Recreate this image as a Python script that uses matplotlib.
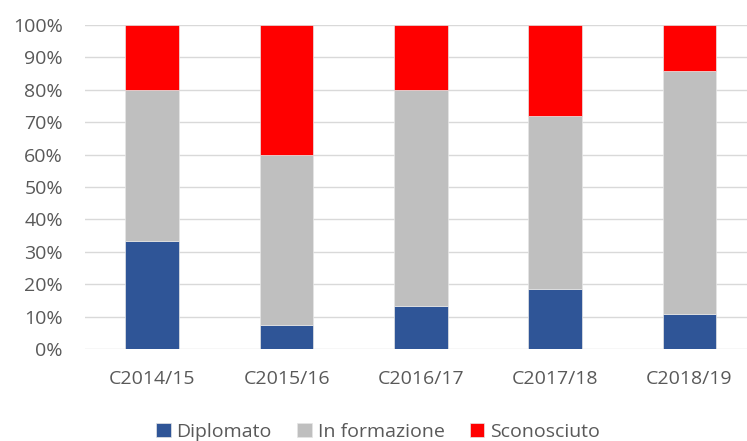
import matplotlib
matplotlib.use("Agg")
import matplotlib.pyplot as plt
import numpy as np

# Cohort outcomes (share of students)
categories = ["C2014/15", "C2015/16", "C2016/17", "C2017/18", "C2018/19"]
diplomato = [33.3, 7.4, 13.3, 18.6, 10.7]
in_formazione = [46.7, 52.6, 66.7, 53.3, 75.0]
sconosciuto = [20.0, 40.0, 20.0, 28.1, 14.3]
y_ticks = [0, 10, 20, 30, 40, 50, 60, 70, 80, 90, 100]

series = [
    ("Diplomato", diplomato, "#2F5597"),
    ("In formazione", in_formazione, "#BFBFBF"),
    ("Sconosciuto", sconosciuto, "#FF0000"),
]

plt.rcParams["font.family"] = ["Open Sans", "DejaVu Sans"]
text_color = "#595959"
fs = 14.0

fig = plt.figure(figsize=(7.47, 4.41), dpi=100)
W, H = 747, 441
left, right, top, bottom = 85.2, 756.5, 25, 349
ax = fig.add_axes([left / W, (H - bottom) / H, (right - left) / W, (bottom - top) / H])

x = np.arange(len(categories))
base = np.zeros(len(categories))
for name, vals, col in series:
    vals = np.asarray(vals, dtype=float)
    ax.bar(x, vals, 0.4, bottom=base, color=col, label=name,
           edgecolor="#E6E6E6", linewidth=0.5, zorder=3)
    base += vals

ax.set_xlim(-0.5, len(categories) - 0.5)
ax.set_ylim(0, 100)
ax.set_yticks(y_ticks)
ax.set_yticklabels([f"{v}%" for v in y_ticks])
ax.set_xticks(x)
ax.set_xticklabels(categories)
ax.yaxis.grid(True, color="#D9D9D9", linewidth=1.0, zorder=0)
ax.set_axisbelow(True)
for s in ax.spines.values():
    s.set_visible(False)
ax.tick_params(axis="both", length=0, labelsize=fs, labelcolor=text_color)
ax.tick_params(axis="y", pad=16)
ax.tick_params(axis="x", pad=15)

leg = fig.legend(loc="center", bbox_to_anchor=(378 / W, (H - 432) / H), ncol=3,
                 frameon=False, fontsize=fs, handlelength=0.75, handleheight=0.7,
                 handletextpad=0.3, columnspacing=1.3, borderaxespad=0)
for t in leg.get_texts():
    t.set_color(text_color)

fig.savefig("out.png", dpi=100)
